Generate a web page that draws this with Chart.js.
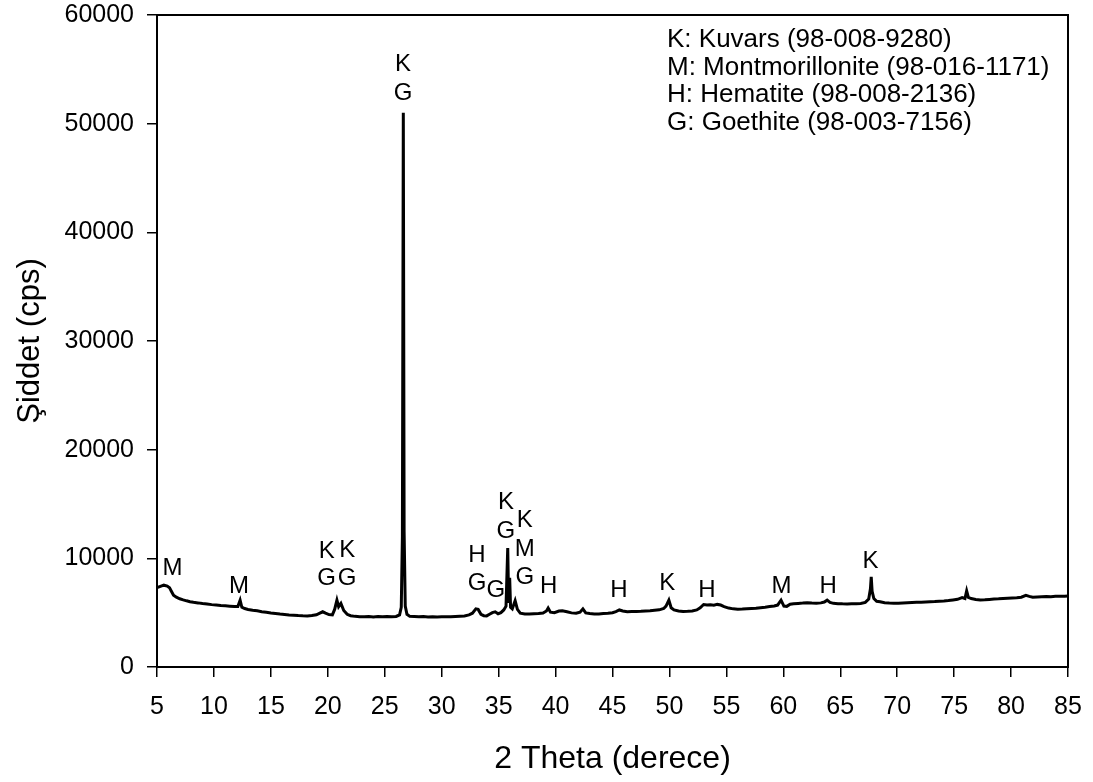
<!DOCTYPE html>
<html>
<head>
<meta charset="utf-8">
<script src="https://cdn.jsdelivr.net/npm/chart.js@4/dist/chart.umd.min.js"></script>
<style>
  html, body { margin: 0; padding: 0; background: #fff; }
  #wrap { width: 1093px; height: 782px; }
</style>
</head>
<body>
<div id="wrap"><canvas id="xrdChart" width="1093" height="782"></canvas></div>
<script>
// 2 theta positions (degrees) and intensities (cps)
let twoTheta = [
  5.0, 5.3, 5.6, 5.9, 6.1, 6.25, 6.45, 6.7, 7.0, 7.3, 7.6, 7.9, 8.2, 8.6, 9.0, 9.4, 9.8,
  10.2, 10.6, 11.0, 11.4, 11.8, 12.1, 12.3, 12.45, 12.7, 13.0, 13.4, 13.8, 14.2, 14.6,
  15.0, 15.4, 15.8, 16.2, 16.6, 17.0, 17.4, 17.8, 18.2, 18.6, 19.0, 19.3, 19.55, 19.8,
  20.1, 20.4, 20.6, 20.8, 20.95, 21.15, 21.4, 21.7, 22.0, 22.4, 22.8, 23.2, 23.6, 24.0,
  24.4, 24.8, 25.2, 25.6, 26.0, 26.3, 26.45, 26.55, 26.63, 26.7, 26.8, 26.95, 27.2, 27.6,
  28.0, 28.4, 28.8, 29.2, 29.6, 30.0, 30.4, 30.8, 31.2, 31.6, 32.0, 32.4, 32.7, 33.0,
  33.2, 33.45, 33.7, 33.95, 34.2, 34.45, 34.7, 34.95, 35.2, 35.45, 35.65, 35.8, 35.88,
  35.97, 36.05, 36.2, 36.45, 36.65, 36.9, 37.3, 37.7, 38.1, 38.5, 38.9, 39.2, 39.35,
  39.55, 39.9, 40.3, 40.6, 41.0, 41.4, 41.8, 42.15, 42.4, 42.65, 43.0, 43.4, 43.8, 44.2,
  44.6, 45.0, 45.3, 45.6, 45.9, 46.3, 46.7, 47.1, 47.5, 47.9, 48.3, 48.7, 49.1, 49.5,
  49.7, 49.95, 50.15, 50.4, 50.8, 51.2, 51.6, 52.0, 52.4, 52.7, 53.0, 53.3, 53.6, 53.9,
  54.2, 54.5, 54.8, 55.2, 55.6, 56.0, 56.4, 56.8, 57.2, 57.6, 58.0, 58.4, 58.8, 59.2,
  59.5, 59.8, 60.05, 60.3, 60.6, 60.9, 61.3, 61.7, 62.1, 62.5, 62.9, 63.3, 63.6, 63.85,
  64.1, 64.4, 64.8, 65.2, 65.6, 66.0, 66.4, 66.8, 67.2, 67.5, 67.65, 67.72, 67.8, 67.95,
  68.2, 68.5, 68.9, 69.3, 69.7, 70.1, 70.5, 70.9, 71.3, 71.7, 72.1, 72.5, 72.9, 73.3,
  73.7, 74.1, 74.5, 74.9, 75.3, 75.7, 75.95, 76.1, 76.25, 76.5, 76.9, 77.3, 77.7, 78.1,
  78.5, 78.9, 79.3, 79.7, 80.1, 80.5, 80.9, 81.3, 81.6, 81.9, 82.3, 82.7, 83.1, 83.5,
  83.9, 84.3, 84.7, 85.0
];
let intensity = [
  7300, 7420, 7530, 7450, 7300, 7000, 6600, 6420, 6280, 6180, 6090, 6010, 5950, 5900, 5840, 5800, 5740,
  5700, 5660, 5630, 5600, 5560, 5560, 6150, 5500, 5380, 5300, 5230, 5170, 5090, 5040,
  4970, 4930, 4870, 4830, 4790, 4760, 4730, 4710, 4700, 4730, 4800, 4950, 5080, 4950,
  4820, 4800, 5300, 6150, 5550, 5850, 5200, 4850, 4720, 4660, 4630, 4620, 4640, 4610,
  4650, 4620, 4640, 4630, 4650, 4800, 5500, 12000, 51000, 12500, 5600, 4850, 4660, 4640,
  4620, 4640, 4610, 4630, 4600, 4620, 4630, 4620, 4650, 4680, 4700, 4800, 4950, 5350,
  5300, 4850, 4720, 4700, 4850, 5000, 5080, 4900, 5000, 5250, 5600, 10950, 5900,
  8200, 5500, 5350, 6100, 5300, 4950, 4880, 4870, 4900, 4920, 4960, 5150, 5420,
  5050, 5000, 5150, 5180, 5080, 4980, 4950, 5050, 5350, 4980, 4920, 4880, 4880, 4920,
  4950, 5000, 5100, 5250, 5150, 5080, 5100, 5100, 5120, 5160, 5180, 5220, 5260, 5380,
  5600, 6150, 5450, 5250, 5150, 5100, 5120, 5160, 5250, 5450, 5750, 5700, 5720, 5680,
  5760, 5700, 5560, 5420, 5350, 5320, 5340, 5370, 5390, 5410, 5460, 5500, 5560, 5620,
  5700, 6150, 5600, 5580, 5780, 5820, 5850, 5880, 5920, 5880, 5860, 5900, 5980, 6150,
  5950, 5860, 5830, 5810, 5800, 5820, 5830, 5850, 5950, 6250, 7200, 8300, 6950, 6300,
  6050, 6000, 5920, 5880, 5870, 5860, 5900, 5920, 5940, 5950, 5960, 5980, 6000, 6020,
  6060, 6080, 6110, 6170, 6230, 6380, 6300, 7000, 6400, 6300, 6220, 6170, 6180, 6220,
  6250, 6270, 6300, 6330, 6360, 6380, 6420, 6600, 6500, 6420, 6440, 6460, 6480, 6470,
  6500, 6510, 6520, 6540
];

// phase letters above peaks: text, 2theta, intensity where the letter sits
let peakText = ["M", "M", "K", "G", "K", "G", "K", "G", "H", "G", "G", "K", "G", "K", "M", "G", "H", "H", "K", "H", "M", "H", "K"];
let peakX = [6.35, 12.2, 19.9, 19.9, 21.7, 21.7, 26.6, 26.6, 33.1, 33.1, 34.76, 35.64, 35.64, 37.3, 37.3, 37.3, 39.4, 45.56, 49.8, 53.3, 59.85, 63.94, 67.66];
let peakY = [9080, 7390, 10610, 8160, 10760, 8160, 55480, 52810, 10300, 7730, 7080, 15120, 12450, 13520, 10860, 8280, 7390, 7080, 7700, 7080, 7390, 7390, 9690];

let phaseLegend = [
  "K: Kuvars (98-008-9280)",
  "M: Montmorillonite (98-016-1171)",
  "H: Hematite (98-008-2136)",
  "G: Goethite (98-003-7156)"
];

let fontFam = "'Liberation Sans', Arial, Helvetica, sans-serif";

let points = twoTheta.map((x, i) => ({ x: x, y: intensity[i] }));

const extras = {
  id: "extras",
  afterDatasetsDraw(chart) {
    const { ctx, chartArea, scales } = chart;
    ctx.save();
    // frame
    ctx.strokeStyle = "#000";
    ctx.lineWidth = 2;
    ctx.strokeRect(chartArea.left, chartArea.top, chartArea.right - chartArea.left, chartArea.bottom - chartArea.top);
    // peak letters
    ctx.fillStyle = "#000";
    ctx.font = "24px " + fontFam;
    ctx.textAlign = "center";
    ctx.textBaseline = "middle";
    peakText.forEach((t, i) => {
      ctx.fillText(t, scales.x.getPixelForValue(peakX[i]), scales.y.getPixelForValue(peakY[i]));
    });
    // phase list, top right
    ctx.font = "26px " + fontFam;
    ctx.textAlign = "left";
    phaseLegend.forEach((t, i) => {
      ctx.fillText(t, 667, 40 + i * 27.5);
    });
    ctx.restore();
  }
};

let ctx = document.getElementById("xrdChart").getContext("2d");

let myChart = new Chart(ctx, {
  type: "line",
  data: {
    datasets: [
      {
        data: points,
        borderColor: "#000",
        borderWidth: 3,
        pointRadius: 0,
        tension: 0,
        fill: false,
      },
    ],
  },
  options: {
    responsive: false,
    animation: false,
    layout: {
      padding: { top: 15, right: 25, left: 0, bottom: 0 },
    },
    plugins: {
      legend: { display: false },
      tooltip: { enabled: false },
    },
    scales: {
      x: {
        type: "linear",
        min: 5,
        max: 85,
        afterFit: (scale) => {
          scale.height = 115;
          scale.paddingLeft = 0;
          scale.paddingRight = 0;
        },
        ticks: {
          stepSize: 5,
          color: "#000",
          padding: 15,
          maxRotation: 0,
          font: { family: fontFam, size: 25 },
        },
        grid: { drawOnChartArea: false, drawTicks: true, tickLength: 10, color: "#000", lineWidth: 1.5 },
        border: { color: "#000", width: 2 },
        title: {
          display: true,
          text: "2 Theta (derece)",
          color: "#000",
          font: { family: fontFam, size: 32 },
          padding: { top: 0, bottom: 4 },
        },
      },
      y: {
        min: 0,
        max: 60000,
        afterFit: (scale) => {
          scale.width = 157;
          scale.paddingTop = 0;
          scale.paddingBottom = 0;
        },
        ticks: {
          stepSize: 10000,
          color: "#000",
          padding: 13,
          font: { family: fontFam, size: 25 },
          callback: (v) => String(v),
        },
        grid: { drawOnChartArea: false, drawTicks: true, tickLength: 10, color: "#000", lineWidth: 1.5 },
        border: { color: "#000", width: 2 },
        title: {
          display: true,
          text: "Şiddet (cps)",
          color: "#000",
          font: { family: fontFam, size: 31 },
          padding: { top: 12, bottom: 0 },
        },
      },
    },
  },
  plugins: [extras],
});
</script>
</body>
</html>
